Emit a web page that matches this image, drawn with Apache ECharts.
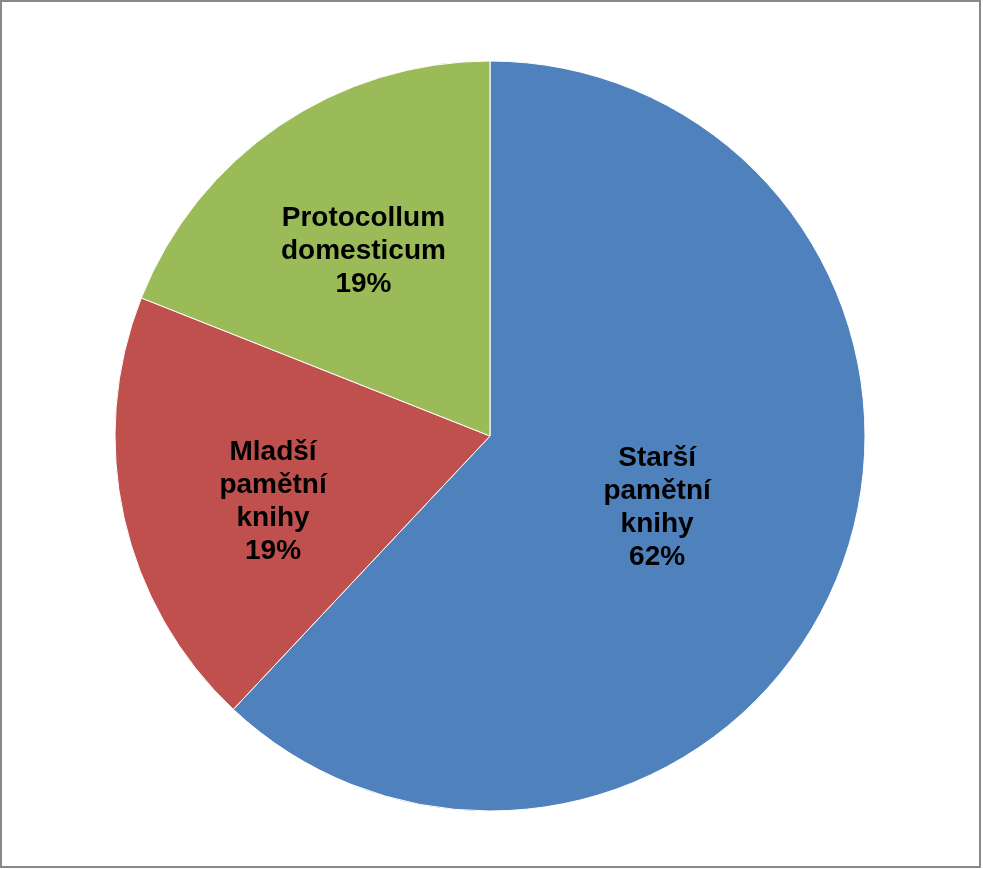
<!DOCTYPE html>
<html>
<head>
<meta charset="utf-8">
<script src="https://cdn.jsdelivr.net/npm/echarts@6/dist/echarts.min.js"></script>
<style>
html,body{margin:0;padding:0;background:#fff;}
#chart{width:983px;height:869px;}
</style>
</head>
<body>
<div id="chart"></div>
<script>
const categories = ["Starší\npamětní\nknihy", "Mladší\npamětní\nknihy", "Protocollum\ndomesticum"];
const values = [62, 19, 19];
const colors = ["#4F81BD", "#C0504D", "#9BBB59"];
// which labels sit at the outer label ring (small slices in the original)
const outerLabel = [false, true, true];
// small nudges of the label boxes to match the original placement
const labelPadding = [[0, 20, 0, 0], [0, 0, 0, 16], [0, 0, 0, 6]];
const labelDown = [2, 15, 6];

const labelStyle = {
  position: 'inside',
  formatter: function (p) {
    return '{s' + p.dataIndex + '|}\n' + p.name + '\n' + Math.round(p.percent) + '%';
  },
  color: '#000',
  fontFamily: 'Liberation Sans, Arial, sans-serif',
  fontWeight: 'bold',
  fontSize: 28,
  lineHeight: 33,
  align: 'center',
  rich: {
    s0: { height: 2 * labelDown[0], lineHeight: 2 * labelDown[0], fontSize: 1 },
    s1: { height: 2 * labelDown[1], lineHeight: 2 * labelDown[1], fontSize: 1 },
    s2: { height: 2 * labelDown[2], lineHeight: 2 * labelDown[2], fontSize: 1 }
  }
};

const mainData = categories.map((c, i) => ({
  name: c, value: values[i],
  itemStyle: { color: colors[i] },
  label: { show: !outerLabel[i], padding: labelPadding[i] }
}));
const labelData = categories.map((c, i) => ({
  name: c, value: values[i],
  label: { show: outerLabel[i], padding: labelPadding[i] }
}));

const chart = echarts.init(document.getElementById('chart'), null, { renderer: 'canvas' });
chart.setOption({
  backgroundColor: '#fff',
  animation: false,
  graphic: [{
    type: 'rect',
    shape: { x: 1, y: 1, width: 979, height: 866 },
    style: { fill: 'none', stroke: '#898989', lineWidth: 2 },
    silent: true
  }],
  series: [{
    type: 'pie',
    center: [490, 436],
    radius: [0, 375],
    startAngle: 90,
    clockwise: true,
    silent: true,
    itemStyle: { borderColor: '#fff', borderWidth: 1 },
    label: labelStyle,
    labelLine: { show: false },
    data: mainData
  }, {
    type: 'pie',
    center: [490, 436],
    radius: [80, 375],
    startAngle: 90,
    clockwise: true,
    silent: true,
    itemStyle: { color: 'rgba(0,0,0,0)', borderWidth: 0 },
    label: labelStyle,
    labelLine: { show: false },
    data: labelData
  }]
});
</script>
</body>
</html>
